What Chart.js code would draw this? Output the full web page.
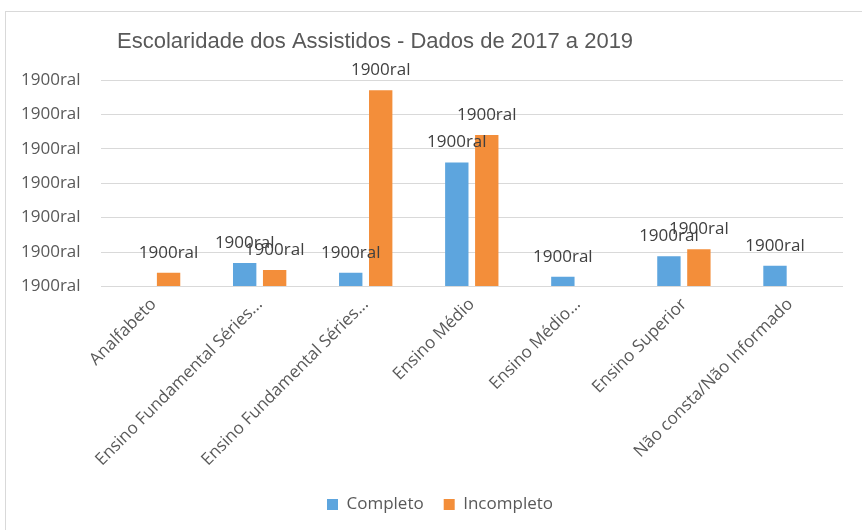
<!DOCTYPE html>
<html>
<head>
<meta charset="utf-8">
<script src="https://cdn.jsdelivr.net/npm/chart.js@4"></script>
<style>
  body { margin: 0; background: #fff; overflow: hidden; }
  .frame { position: absolute; left: 5px; top: 11px; width: 870px; height: 540px; border: 1px solid #d9d9d9; }
  .box { position: relative; width: 856px; height: 508px; }
</style>
</head>
<body>
<div class="frame"><div class="box"><canvas id="barChart"></canvas></div></div>
<script>
const categorias = ['Analfabeto', 'Ensino Fundamental Séries...', 'Ensino Fundamental Séries...', 'Ensino Médio', 'Ensino Médio...', 'Ensino Superior', 'Não consta/Não Informado'];
const completo = [null, 34, 20, 180, 14, 44, 30];
const incompleto = [20, 24, 285, 220, null, 54, null];
const rotuloValor = '1900ral';
const titulo = 'Escolaridade dos Assistidos - Dados de 2017 a 2019';

const tituloPlugin = {
    id: 'tituloPlugin',
    afterLayout(chart) {
        // legenda um pouco à direita, como no original
        chart.legend.left += 36;
    },
    afterDraw(chart) {
        const c = chart.ctx;
        c.save();
        c.font = '22px "Liberation Sans", Arial, sans-serif';
        c.fillStyle = '#595959';
        c.textBaseline = 'middle';
        c.textAlign = 'left';
        c.fillText(titulo, 111, 30);
        c.restore();
    }
};

const rotulosPlugin = {
    id: 'rotulosPlugin',
    afterDatasetsDraw(chart) {
        const c = chart.ctx;
        c.save();
        c.font = '17px "Open Sans", sans-serif';
        c.fillStyle = '#404040';
        c.textAlign = 'center';
        c.textBaseline = 'middle';
        chart.data.datasets.forEach((ds, i) => {
            chart.getDatasetMeta(i).data.forEach((bar, j) => {
                if (ds.data[j] === null) return;
                c.fillText(rotuloValor, bar.x, bar.y - 20);
            });
        });
        c.restore();
    }
};

const ctxBar = document.getElementById('barChart').getContext('2d');
const barChart = new Chart(ctxBar, {
    type: 'bar',
    data: {
        labels: categorias,
        datasets: [{
            label: 'Completo',
            data: completo,
            backgroundColor: '#5DA5DE',
            categoryPercentage: 0.565,
            barPercentage: 0.78
        }, {
            label: 'Incompleto',
            data: incompleto,
            backgroundColor: '#F38E3A',
            categoryPercentage: 0.565,
            barPercentage: 0.78
        }]
    },
    options: {
        responsive: true,
        maintainAspectRatio: false,
        animation: false,
        layout: {
            padding: { left: -5, right: 19, top: 68, bottom: -3 }
        },
        plugins: {
            legend: {
                position: 'bottom',
                labels: {
                    boxWidth: 11,
                    boxHeight: 11,
                    padding: 20,
                    color: '#595959',
                    font: { family: '"Open Sans", sans-serif', size: 17 }
                }
            },
            tooltip: { enabled: false }
        },
        scales: {
            x: {
                grid: { display: false },
                border: { display: false },
                afterFit: (scale) => { scale.height += 6; },
                ticks: {
                    maxRotation: 45,
                    minRotation: 45,
                    autoSkip: false,
                    padding: 0,
                    color: '#595959',
                    font: { family: '"Open Sans", sans-serif', size: 17 }
                }
            },
            y: {
                min: 0,
                max: 300,
                grid: { color: '#d9d9d9', drawTicks: false },
                border: { display: false },
                ticks: {
                    stepSize: 50,
                    padding: 20,
                    color: '#595959',
                    font: { family: '"Open Sans", sans-serif', size: 17 },
                    callback: () => rotuloValor
                }
            }
        }
    },
    plugins: [tituloPlugin, rotulosPlugin]
});
</script>
</body>
</html>
